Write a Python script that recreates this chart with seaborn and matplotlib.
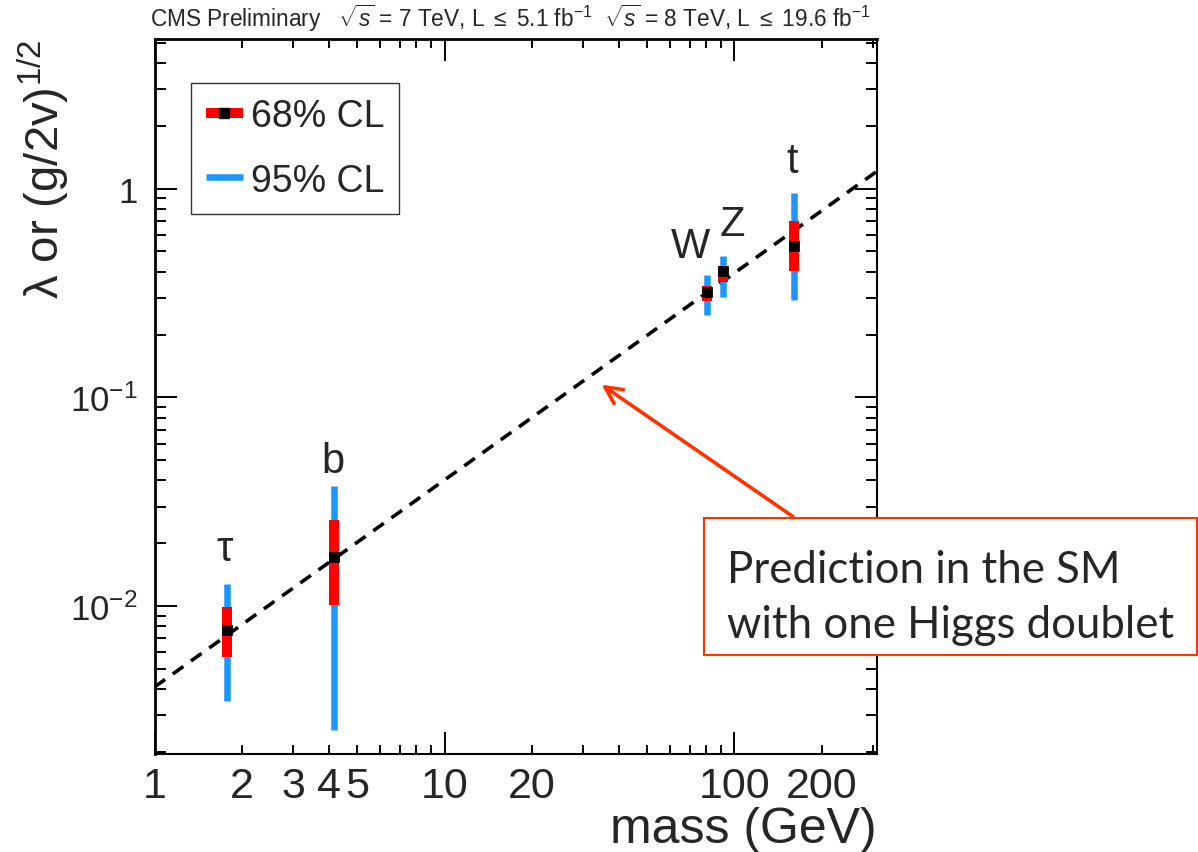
import matplotlib
matplotlib.use('Agg')
import matplotlib.pyplot as plt
from matplotlib.lines import Line2D
from matplotlib.patches import Rectangle
from matplotlib.ticker import FixedLocator, FixedFormatter
import seaborn as sns
import pandas as pd

# ---- data ----
particles = ['τ', 'b', 'W', 'Z', 't']
mass = [1.78, 4.15, 80.4, 91.2, 160.0]
coupling = [0.0077, 0.0171, 0.318, 0.401, 0.528]
lo68 = [0.0057, 0.0101, 0.288, 0.355, 0.401]
hi68 = [0.0099, 0.0258, 0.343, 0.428, 0.703]
lo95 = [0.0035, 0.00255, 0.247, 0.301, 0.294]
hi95 = [0.0127, 0.0375, 0.384, 0.473, 0.957]

# SM prediction (dashed line end points)
sm_mass = [1.0, 310.0]
sm_coupling = [0.0041, 1.21]

# where the particle names sit
label_x = [1.74, 4.11, 70.5, 98.4, 158.5]
label_y = [0.0188, 0.0494, 0.528, 0.673, 1.35]

xmajor = [1, 10, 100]
xminor = [2, 3, 4, 5, 6, 7, 8, 9, 20, 30, 40, 50, 60, 70, 80, 90, 200, 300]
xminor_labels = ['2', '3', '4', '5', '', '', '', '', '20', '', '', '', '', '', '', '', '200', '']
yticks = [0.01, 0.1, 1]
ytick_labels = ['10$^{-2}$', '10$^{-1}$', '1']

df = pd.DataFrame({'mass': mass, 'coupling': coupling})
sm = pd.DataFrame({'mass': sm_mass, 'coupling': sm_coupling})

blue = '#1E96FF'
red = '#FF0000'
orange = '#FF3300'

sns.set_theme(style='ticks')
plt.rcParams['font.family'] = ['Liberation Sans', 'DejaVu Sans']
plt.rcParams['mathtext.fontset'] = 'custom'
plt.rcParams['mathtext.rm'] = 'Liberation Sans'
plt.rcParams['mathtext.it'] = 'Liberation Sans:italic'

fig = plt.figure(figsize=(11.98, 8.53), dpi=100)
ax = fig.add_axes([0.129, 0.115, 0.603, 0.838])

# SM line
sns.lineplot(data=sm, x='mass', y='coupling', ax=ax, color='black', lw=2.6,
             linestyle=(0, (3.6, 2.6)), zorder=2)

# error bars
ax.vlines(mass, lo95, hi95, color=blue, lw=4.7, zorder=3)
ax.vlines(mass, lo68, hi68, color=red, lw=7.2, zorder=4)
sns.scatterplot(data=df, x='mass', y='coupling', ax=ax, marker='s', s=50,
                color='black', edgecolor='black', zorder=5)

for name, lx, ly in zip(particles, label_x, label_y):
    ax.text(lx, ly, name, fontsize=30, ha='center', va='center')

ax.set_xscale('log')
ax.set_yscale('log')
ax.set_xlim(1, 310)
ax.set_ylim(0.00196, 5.2)

ax.xaxis.set_major_locator(FixedLocator(xmajor))
ax.xaxis.set_major_formatter(FixedFormatter([str(v) for v in xmajor]))
ax.xaxis.set_minor_locator(FixedLocator(xminor))
ax.xaxis.set_minor_formatter(FixedFormatter(xminor_labels))
ax.yaxis.set_major_locator(FixedLocator(yticks))
ax.yaxis.set_major_formatter(FixedFormatter(ytick_labels))

ax.tick_params(which='both', direction='in', top=True, right=True, width=1.4, color='black')
ax.tick_params(axis='x', which='major', length=16, labelsize=31, pad=9)
ax.tick_params(axis='x', which='minor', length=6.5, labelsize=31, pad=9)
ax.tick_params(axis='y', which='major', length=16, labelsize=25, pad=12)
ax.tick_params(axis='y', which='minor', length=8)

for side in ['left', 'top']:
    ax.spines[side].set_linewidth(2.0)
for side in ['bottom', 'right']:
    ax.spines[side].set_linewidth(1.5)
for s in ax.spines.values():
    s.set_color('black')

ax.set_xlabel('mass (GeV)', fontsize=36, loc='right', labelpad=0)
ax.set_ylabel('λ or (g/2v)$^{1/2}$', fontsize=34, loc='top')
ax.yaxis.set_label_coords(-0.115, 1.0)

handles = [
    Line2D([0], [0], color=red, lw=7.2, marker='s', markersize=7,
           markerfacecolor='black', markeredgecolor='black', solid_capstyle='butt'),
    Line2D([0], [0], color=blue, lw=4.7, solid_capstyle='butt'),
]
leg = ax.legend(handles, ['68% CL', '95% CL'], loc='upper left',
                bbox_to_anchor=(0.05, 0.938), borderaxespad=0, fontsize=27,
                frameon=True, fancybox=False, edgecolor='black',
                handlelength=1.0, handletextpad=0.2, labelspacing=0.75,
                borderpad=0.4)
leg.get_frame().set_linewidth(1.0)

fig.text(0.125, 0.979,
         'CMS Preliminary   $\\sqrt{s}$ = 7 TeV, L $\\leq$ 5.1 fb$^{-1}$  '
         '$\\sqrt{s}$ = 8 TeV, L $\\leq$ 19.6 fb$^{-1}$',
         fontsize=16.3, va='center', ha='left')

# annotation box with arrow
ax.annotate('', xy=(34.2, 0.117), xycoords='data',
            xytext=(795 / 1198, 1 - 519 / 853), textcoords='figure fraction',
            arrowprops=dict(arrowstyle='->,head_length=1.0,head_width=0.5',
                            color=orange, lw=2.6), annotation_clip=False)
fig.add_artist(Rectangle((0.5876, 0.2309), 0.4115, 0.1606, transform=fig.transFigure,
                         facecolor='white', edgecolor=orange, lw=1.5, zorder=5))
fig.text(0.607, 0.3165, 'Prediction in the SM', fontsize=31.5, family='Lato',
         va='baseline', zorder=6)
fig.text(0.607, 0.252, 'with one Higgs doublet', fontsize=31.5, family='Lato',
         va='baseline', zorder=6)

fig.savefig('out.png', dpi=100)
